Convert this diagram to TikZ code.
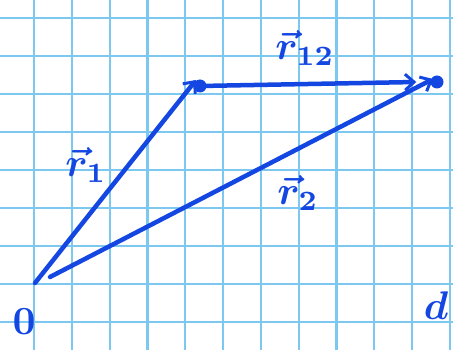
\documentclass[tikz,border=0pt]{standalone}
\usepackage{graphicx}
\usetikzlibrary{arrows.meta}
\definecolor{ink}{RGB}{20,70,225}
\definecolor{gridc}{RGB}{125,200,240}
\newcommand{\biglbl}[1]{\scalebox{4}{\boldmath$#1$}}
\begin{document}
\begin{tikzpicture}[x=1pt,y=-1pt,
  vec/.style={draw=ink,line width=4.5pt,line cap=round,-{Straight Barb[length=9pt,width=16pt,line width=3pt]}},
  dot/.style={circle,fill=ink,inner sep=0pt,minimum size=13pt},
  lbl/.style={text=ink,inner sep=0pt}]
\useasboundingbox (0,0) rectangle (453,350);
\clip (0,0) rectangle (453,350);
\fill[white] (0,0) rectangle (453,350);
\foreach \k in {0,...,11} \draw[gridc,line width=2.2pt] ({34+37.8*\k},0) -- ({34+37.8*\k},350);
\foreach \k in {0,...,8} \draw[gridc,line width=2.2pt] (0,{18+38*\k}) -- (453,{18+38*\k});
\coordinate (O) at (35,283);
\coordinate (O2) at (50,277);
\node[dot] (P1) at (200,86) {};
\node[dot] (P2) at (437,82) {};
\draw[vec] (O) -- ([xshift=-4pt,yshift=6pt]P1.center);
\draw[vec] (P1) -- ([xshift=-14pt]P2.west);
\draw[vec] (O2) -- ([xshift=-4pt,yshift=3pt]P2.center);
\node[lbl] (l1) at (86,165) {\biglbl{\vec{r}_1}};
\node[lbl] (l12) at (305,48) {\biglbl{\vec{r}_{12}}};
\node[lbl] (l2) at (298,193) {\biglbl{\vec{r}_2}};
\node[lbl] (l0) at (24,322) {\biglbl{0}};
\node[lbl] (ld) at (436,306) {\biglbl{d}};
\end{tikzpicture}
\end{document}
